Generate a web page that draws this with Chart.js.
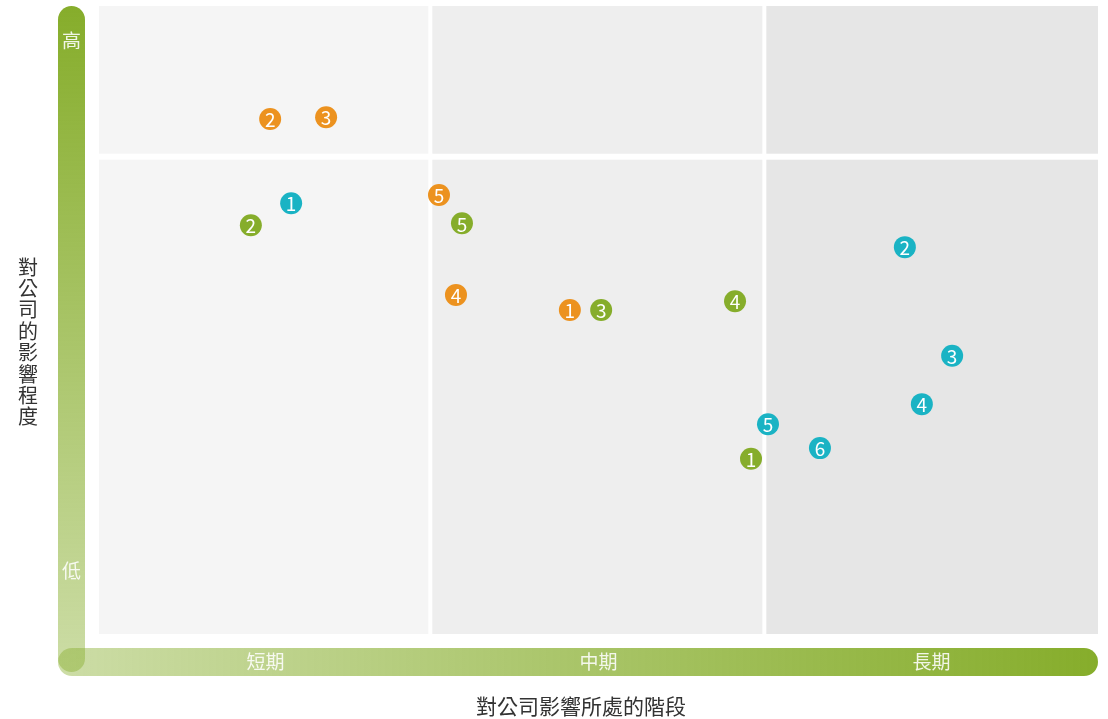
<!DOCTYPE html>
<html><head><meta charset="utf-8">
<script src="https://cdn.jsdelivr.net/npm/chart.js@4/dist/chart.umd.min.js"></script>
<style>html,body{margin:0;padding:0;background:#fff;}#wrap{width:1108px;height:719px;position:relative;}</style>
</head><body><div id="wrap"><canvas id="c" width="1108" height="719"></canvas></div>
<script>
const periodLabels = ['短期', '中期', '長期'];
const levelLabels = ['高', '低'];
const xTitle = '對公司影響所處的階段';
const yTitle = '對公司的影響程度';

const orangeX = [14.14, 5.14, 6.82, 10.72, 10.21];
const orangeY = [51.6, 82.0, 82.3, 54.0, 69.9];
const orangeLabels = ['1', '2', '3', '4', '5'];

const greenX = [19.58, 4.56, 15.08, 19.1, 10.9];
const greenY = [27.9, 65.1, 51.6, 53.0, 65.4];
const greenLabels = ['1', '2', '3', '4', '5'];

const tealX = [5.77, 24.2, 25.62, 24.71, 20.09, 21.65];
const tealY = [68.6, 61.6, 44.3, 36.6, 33.4, 29.6];
const tealLabels = ['1', '2', '3', '4', '5', '6'];

const FONT = '"Noto Sans CJK TC", "Noto Sans", sans-serif';

function pts(xs, ys) { return xs.map((x, i) => ({x: x, y: ys[i]})); }

const bgPlugin = {
  id: 'bg',
  beforeDraw(chart) {
    const ctx = chart.ctx, xs = chart.scales.x, ys = chart.scales.y;
    const cols = ['#f5f5f5', '#eeeeee', '#e6e6e6'];
    const top = ys.getPixelForValue(100), bot = ys.getPixelForValue(0), mid = ys.getPixelForValue(76);
    ctx.save();
    const b1 = xs.getPixelForValue(9.95), b2 = xs.getPixelForValue(19.98);
    const edges = [[xs.left, b1 - 2], [b1 + 2, b2 - 2], [b2 + 2, xs.right]];
    for (let i = 0; i < 3; i++) {
      const l = edges[i][0], r = edges[i][1];
      ctx.fillStyle = cols[i];
      ctx.fillRect(l, top, r - l, mid - 3 - top);
      ctx.fillRect(l, mid + 3, r - l, bot - mid - 3);
    }
    const left = 58, bw = 27, rad = 13.5;
    const barTop = top;
    const hg = ctx.createLinearGradient(left, 0, xs.right, 0);
    hg.addColorStop(0, 'rgba(134,173,43,0.42)');
    hg.addColorStop(1, 'rgba(134,173,43,1)');
    ctx.fillStyle = hg;
    ctx.beginPath();
    ctx.roundRect(left, 648, xs.right - left, 28, 14);
    ctx.fill();
    const vg = ctx.createLinearGradient(0, barTop, 0, 672);
    vg.addColorStop(0, 'rgba(134,173,43,1)');
    vg.addColorStop(1, 'rgba(134,173,43,0.42)');
    ctx.fillStyle = vg;
    ctx.beginPath();
    ctx.roundRect(left, barTop, bw, 672 - barTop, rad);
    ctx.fill();
    ctx.fillStyle = 'rgba(255,255,255,0.88)';
    ctx.font = '19px ' + FONT;
    ctx.textAlign = 'center'; ctx.textBaseline = 'middle';
    ctx.fillText(levelLabels[0], left + bw / 2, 41);
    ctx.fillText(levelLabels[1], left + bw / 2, 571);
    periodLabels.forEach((t, i) => {
      ctx.fillText(t, xs.getPixelForValue(i * 10 + 5), 662);
    });
    ctx.fillStyle = '#333';
    ctx.font = '21px ' + FONT;
    ctx.fillText(xTitle, 581, 706);
    ctx.font = '20px ' + FONT;
    const chars = Array.from(yTitle);
    const step = 21.4, cy = 342;
    chars.forEach((ch, i) => {
      ctx.fillText(ch, 28, cy + (i - (chars.length - 1) / 2) * step);
    });
    ctx.restore();
  }
};

const labelPlugin = {
  id: 'numLabels',
  afterDatasetsDraw(chart) {
    const ctx = chart.ctx;
    ctx.save();
    ctx.fillStyle = '#fff';
    ctx.font = '19px ' + FONT;
    ctx.textAlign = 'center'; ctx.textBaseline = 'middle';
    chart.data.datasets.forEach((ds, di) => {
      const meta = chart.getDatasetMeta(di);
      meta.data.forEach((el, i) => {
        ctx.fillText(ds.numLabels[i], el.x, el.y + 1);
      });
    });
    ctx.restore();
  }
};

new Chart(document.getElementById('c'), {
  type: 'scatter',
  data: {
    datasets: [
      {data: pts(orangeX, orangeY), numLabels: orangeLabels, backgroundColor: '#ec921f', borderWidth: 0, pointRadius: 11},
      {data: pts(greenX, greenY), numLabels: greenLabels, backgroundColor: '#86ad2b', borderWidth: 0, pointRadius: 11},
      {data: pts(tealX, tealY), numLabels: tealLabels, backgroundColor: '#1ab3c4', borderWidth: 0, pointRadius: 11}
    ]
  },
  options: {
    responsive: false,
    animation: false,
    layout: {autoPadding: false, padding: {left: 99, right: 10, top: 6, bottom: 85}},
    plugins: {legend: {display: false}, tooltip: {enabled: false}},
    scales: {
      x: {type: 'linear', min: 0, max: 30, display: false},
      y: {type: 'linear', min: 0, max: 100, display: false}
    }
  },
  plugins: [bgPlugin, labelPlugin]
});
</script></body></html>
